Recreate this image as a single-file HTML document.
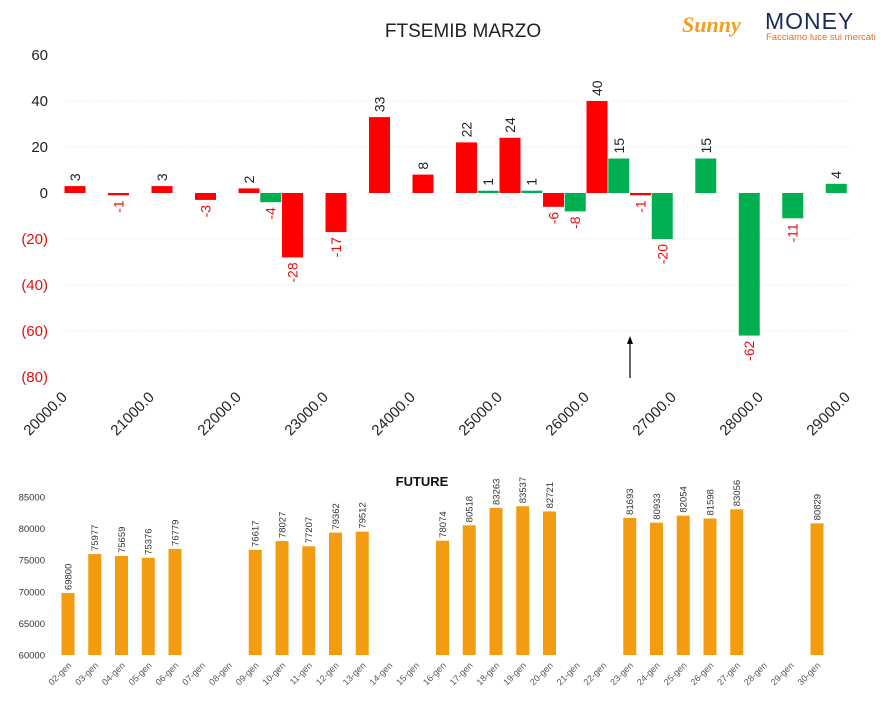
<!DOCTYPE html>
<html><head><meta charset="utf-8"><style>
html,body{margin:0;padding:0;background:#fff;}
svg{display:block;font-family:"Liberation Sans","DejaVu Sans",sans-serif;}
</style></head><body>
<svg id="c" width="889" height="710" viewBox="0 0 889 710">
<text x="463" y="37" font-size="19" text-anchor="middle" fill="#222">FTSEMIB MARZO</text>
<g>
<text x="682" y="32" font-size="22" font-style="italic" font-weight="bold" fill="#f0a020" font-family="Liberation Serif,serif">Sunny</text>
<text x="765" y="29" font-size="23" fill="#1a2a5a" letter-spacing="1">MONEY</text>
<text x="766" y="40" font-size="9.5" fill="#e07020">Facciamo luce sui mercati</text>
</g>
<g id="topG"></g>
<g id="botG"></g>
<line x1="630" y1="378" x2="630" y2="342" stroke="#000" stroke-width="1.2"/>
<polygon points="630,336 627,344 633,344" fill="#000"/>
<text x="422" y="486" font-size="13" font-weight="bold" text-anchor="middle" fill="#111">FUTURE</text>
</svg>
<script>
// Top chart data
const strikes=[20000,20500,21000,21500,22000,22250,22500,23000,23500,24000,24500,24750,25000,25250,25500,25750,26000,26250,26500,26750,27250,27750,28250,28750];
const deltas=[3,-1,3,-3,2,-4,-28,-17,33,8,22,1,24,1,-6,-8,40,15,-1,-20,15,-62,-11,4];
const colors=["r","r","r","r","r","g","r","r","r","r","r","g","r","g","r","g","r","g","r","g","g","g","g","g"];
const yTicks=[60,40,20,0,-20,-40,-60,-80];
const xTicks=[20000,21000,22000,23000,24000,25000,26000,27000,28000,29000];
// Bottom chart data
const days=["02-gen","03-gen","04-gen","05-gen","06-gen","07-gen","08-gen","09-gen","10-gen","11-gen","12-gen","13-gen","14-gen","15-gen","16-gen","17-gen","18-gen","19-gen","20-gen","21-gen","22-gen","23-gen","24-gen","25-gen","26-gen","27-gen","28-gen","29-gen","30-gen"];
const futures=[69800,75977,75659,75376,76779,null,null,76617,78027,77207,79362,79512,null,null,78074,80518,83263,83537,82721,null,null,81693,80933,82054,81598,83056,null,null,80829];
const fTicks=[60000,65000,70000,75000,80000,85000];

const NS="http://www.w3.org/2000/svg";
function mk(p,t,a,txt){const e=document.createElementNS(NS,t);for(const k in a)e.setAttribute(k,a[k]);if(txt!==undefined)e.textContent=txt;p.appendChild(e);return e;}
const topG=document.getElementById('topG'),botG=document.getElementById('botG');
const X=v=>75+(v-20000)/250*21.75;
const Y=v=>193-v*2.3;
yTicks.forEach(t=>{
  if(t!==60&&t!==0&&t!==-80){const g=mk(topG,'line',{x1:66,x2:850,y1:Y(t),y2:Y(t),stroke:'#ddd','stroke-dasharray':'1,2'});
  
  }
  const l=mk(topG,'text',{x:48,y:Y(t)+5,'font-size':15,'text-anchor':'end',fill:t<0?'#e01010':'#222'},t<0?'('+(-t)+')':String(t));
  
  
});
xTicks.forEach(t=>{
  const x=X(t)-7;
  const l=mk(topG,'text',{x:x,y:398,'font-size':15,'text-anchor':'end',fill:'#222',transform:`rotate(-45 ${x} 398)`},t.toFixed(1));
  
  
});
strikes.forEach((s,i)=>{
  const v=deltas[i],cx=X(s),y0=Y(0),y1=Y(v);
  const h=Math.max(Math.abs(y1-y0),1.5);
  const b=mk(topG,'rect',{x:cx-10.5,y:v>=0?y0-h:y0,width:21,height:h,fill:colors[i]==='r'?'#ff0000':'#00b050'});
  
  
  let lx=cx+5,ly;
  let t;
  if(v>=0){ly=Math.min(y0,y1)-5;t=mk(topG,'text',{x:lx,y:ly,'font-size':14,fill:'#222',transform:`rotate(-90 ${lx} ${ly})`},String(v));}
  else{ly=Math.max(y0,y1)+5;t=mk(topG,'text',{x:lx,y:ly,'font-size':14,fill:'#e01010','text-anchor':'end',transform:`rotate(-90 ${lx} ${ly})`},String(v));}
  
  
});
// bottom
const FX=i=>68+i*26.75;
const FY=v=>655-(v-60000)/25000*158;
fTicks.forEach(t=>{
  const l=mk(botG,'text',{x:45,y:FY(t)+3.5,'font-size':9.5,'text-anchor':'end',fill:'#333'},String(t));
  
  
});
days.forEach((d,i)=>{
  const x=FX(i)+4,y=666;
  const l=mk(botG,'text',{x:x,y:y,'font-size':9,'text-anchor':'end',fill:'#555',transform:`rotate(-45 ${x} ${y})`},d);
  
  
  const v=futures[i];
  if(v==null)return;
  const b=mk(botG,'rect',{x:FX(i)-6.5,y:FY(v),width:13,height:655-FY(v),fill:'#f39c12'});
  
  
  const lx=FX(i)+3.5,ly=FY(v)-3;
  const t=mk(botG,'text',{x:lx,y:ly,'font-size':9.5,fill:'#333',transform:`rotate(-90 ${lx} ${ly})`},String(v));
  
  
});
</script>
</body></html>
